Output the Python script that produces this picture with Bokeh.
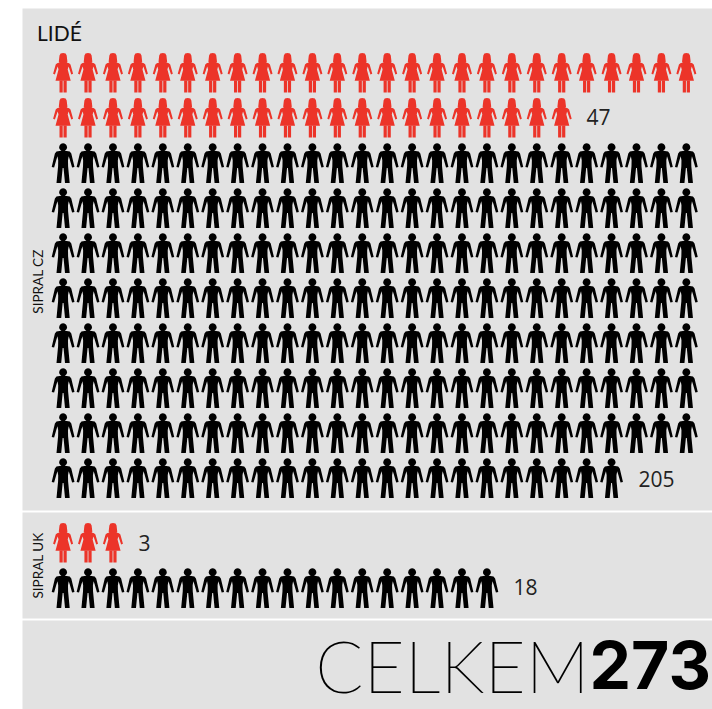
from bokeh.plotting import figure
from bokeh.models import Range1d
from bokeh.embed import file_html
from bokeh.resources import INLINE
from bokeh.core.properties import value
import math

# Data
per_row = 26
cz_women = 47
cz_men = 205
uk_women = 3
uk_men = 18
total = 273
title = "LIDÉ"
group_labels = ["SIPRAL CZ", "SIPRAL UK"]
total_word = "CELKEM"

GREY = "#e2e2e2"
RED = "#ec3429"
BLACK = "#000000"
PITCH_X = 24.93
PITCH_Y = 45.0
X0 = 62.6

p = figure(width=712, height=709, output_backend="svg", toolbar_location=None,
           x_range=Range1d(0, 712), y_range=Range1d(709, 0),
           min_border=0, outline_line_color=None, background_fill_color="white",
           border_fill_color="white")
p.axis.visible = False
p.grid.visible = False

# Panels
p.quad(left=[22, 22, 22], right=[712, 712, 712], top=[8, 512, 620], bottom=[510, 618, 709],
       fill_color=GREY, line_color=None)


def mirror(half):
    return half + [(-x, y) for x, y in reversed(half)]


LEG = [(3.6, 7.4), (3.6, 19.6), (0.4, 19.6), (0.4, 7.4)]
FEMALE_PARTS = [
    mirror([(0, -20), (2.5, -19.4), (3.6, -17.4), (4.0, -14), (4.3, -11.2), (3.6, -10.4), (6.0, -9.8), (7.4, -8.6),
            (10.0, 0.8), (8.2, 1.5), (6.0, -5.0), (5.4, -6.6), (4.6, -3.6), (7.6, 7.8), (0, 7.8)]),
    LEG,
    [(-x, y) for x, y in LEG],
]

HEAD = [(3.9 * math.cos(a * math.pi / 10), -16 + 3.9 * math.sin(a * math.pi / 10)) for a in range(20)]
MALE_PARTS = [
    HEAD,
    mirror([(0, -13.5), (1.8, -13), (2.0, -12.4), (6.6, -11.6), (8.2, -9.8), (11.4, 3.8), (9.0, 4.4),
            (6.6, -4.0), (5.6, -7.0), (4.9, -3.0), (5.0, 3.0), (6.6, 19.8), (1.9, 19.8), (0.45, 4.8), (0, 4.8)]),
]


def draw(count, first_y, parts, color):
    xs, ys = [], []
    for i in range(count):
        cx = X0 + (i % per_row) * PITCH_X
        cy = first_y + (i // per_row) * PITCH_Y
        for part in parts:
            xs.append([cx + a for a, _ in part])
            ys.append([cy + b for _, b in part])
    p.patches(xs, ys, fill_color=color, line_color=None)


draw(cz_women, 72.5, FEMALE_PARTS, RED)
draw(cz_men, 162.7, MALE_PARTS, BLACK)
draw(uk_women, 542.5, FEMALE_PARTS, RED)
draw(uk_men, 587.7, MALE_PARTS, BLACK)

# Count labels
p.text(x=[586, 638, 138, 513], y=[116.5, 478.5, 542.5, 586.5],
       text=[str(cz_women), str(cz_men), str(uk_women), str(uk_men)],
       text_font=value("Open Sans"), text_font_size="21px", text_color="#222222",
       text_align="left", text_baseline="middle")

p.text(x=[36.5], y=[31.5], text=[title], text_font=value("Lato"), text_font_size="21px",
       text_color="#111111", text_baseline="middle")

p.text(x=[37.5, 37.5], y=[281, 565], text=group_labels, angle=math.pi / 2,
       text_font=value("Lato"), text_font_size="13.5px", text_color="#111111",
       text_align="center", text_baseline="middle")

p.text(x=[589], y=[664.5], text=[total_word], text_font=value("Lato Thin"), text_font_size="71px",
       text_color="#000000", text_align="right", text_baseline="middle")
p.text(x=[710.5], y=[664.5], text=[str(total)], text_font=value("Inter"), text_font_style="bold",
       text_font_size="66px", text_color="#000000", text_align="right", text_baseline="middle")

open("out.html", "w").write(file_html(p, INLINE))
